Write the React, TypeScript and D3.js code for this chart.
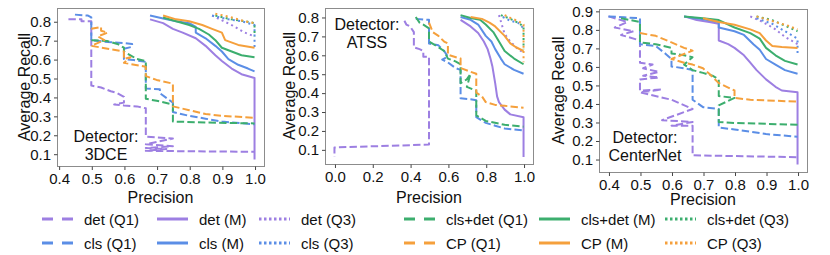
import { useEffect, useRef } from 'react';
import * as d3 from 'd3';

type Pt = [number, number]; // [precision, recall]

// ---- detector 3DCE ----
const dceDetQ1: Pt[] = [[0.43, 0.81], [0.47, 0.81], [0.47, 0.8], [0.5, 0.8], [0.5, 0.46], [0.53, 0.45], [0.56, 0.43], [0.58, 0.42], [0.6, 0.4], [0.6, 0.37], [0.57, 0.36], [0.6, 0.355], [0.64, 0.35], [0.667, 0.34], [0.667, 0.19], [0.75, 0.18], [0.667, 0.15], [0.75, 0.14], [0.667, 0.13], [0.73, 0.125], [0.667, 0.115], [1.0, 0.11]];
const dceDetM: Pt[] = [[0.68, 0.81], [0.72, 0.79], [0.75, 0.76], [0.78, 0.74], [0.82, 0.71], [0.85, 0.67], [0.88, 0.62], [0.9, 0.59], [0.93, 0.55], [0.96, 0.52], [1.0, 0.5], [1.0, 0.07]];
const dceDetQ3: Pt[] = [[0.87, 0.83], [0.93, 0.78], [0.97, 0.74], [1.0, 0.72]];
const dceClsQ1: Pt[] = [[0.45, 0.835], [0.49, 0.83], [0.5, 0.82], [0.5, 0.7], [0.55, 0.69], [0.6, 0.685], [0.625, 0.68], [0.625, 0.665], [0.6, 0.655], [0.6, 0.6], [0.63, 0.595], [0.667, 0.585], [0.667, 0.445], [0.71, 0.44], [0.71, 0.42], [0.75, 0.37], [0.75, 0.32], [0.8, 0.3], [0.85, 0.285], [0.9, 0.27], [1.0, 0.255]];
const dceClsM: Pt[] = [[0.68, 0.83], [0.72, 0.815], [0.76, 0.8], [0.8, 0.79], [0.82, 0.77], [0.82, 0.74], [0.85, 0.71], [0.88, 0.67], [0.9, 0.64], [0.92, 0.6], [0.95, 0.57], [0.98, 0.55], [1.0, 0.535]];
const dceClsQ3: Pt[] = [[0.87, 0.83], [0.92, 0.81], [0.96, 0.8], [1.0, 0.78], [1.0, 0.66]];
const dceCdQ1: Pt[] = [[0.5, 0.7], [0.55, 0.695], [0.58, 0.68], [0.6, 0.66], [0.6, 0.64], [0.62, 0.62], [0.64, 0.6], [0.667, 0.59], [0.667, 0.39], [0.7, 0.38], [0.75, 0.36], [0.75, 0.27], [0.85, 0.265], [1.0, 0.26]];
const dceCdM: Pt[] = [[0.72, 0.82], [0.76, 0.8], [0.8, 0.78], [0.83, 0.76], [0.86, 0.73], [0.88, 0.7], [0.9, 0.66], [0.93, 0.64], [0.96, 0.62], [1.0, 0.61]];
const dceCdQ3: Pt[] = [[0.88, 0.83], [0.93, 0.81], [0.97, 0.8], [1.0, 0.79], [1.0, 0.72]];
const dceCpQ1: Pt[] = [[0.5, 0.76], [0.53, 0.77], [0.53, 0.75], [0.55, 0.74], [0.52, 0.72], [0.54, 0.7], [0.5, 0.67], [0.55, 0.655], [0.6, 0.64], [0.6, 0.6], [0.62, 0.61], [0.6, 0.58], [0.667, 0.56], [0.667, 0.51], [0.7, 0.49], [0.75, 0.47], [0.75, 0.35], [0.8, 0.33], [0.85, 0.31], [0.9, 0.3], [1.0, 0.29]];
const dceCpM: Pt[] = [[0.72, 0.83], [0.76, 0.81], [0.8, 0.8], [0.84, 0.78], [0.87, 0.76], [0.9, 0.74], [0.91, 0.7], [0.95, 0.675], [1.0, 0.66]];
const dceCpQ3: Pt[] = [[0.88, 0.84], [0.93, 0.82], [0.97, 0.8], [1.0, 0.79]];

// ---- detector ATSS ----
const atssDetQ1: Pt[] = [[0.37, 0.78], [0.38, 0.76], [0.4, 0.75], [0.42, 0.72], [0.42, 0.64], [0.45, 0.63], [0.47, 0.62], [0.47, 0.59], [0.5, 0.59], [0.5, 0.125], [0.0, 0.11], [0.0, 0.06]];
const atssDetM: Pt[] = [[0.667, 0.785], [0.72, 0.75], [0.76, 0.715], [0.79, 0.67], [0.81, 0.63], [0.825, 0.58], [0.835, 0.54], [0.85, 0.45], [0.86, 0.38], [0.87, 0.35], [0.9, 0.31], [0.93, 0.285], [1.0, 0.27], [1.0, 0.06]];
const atssDetQ3: Pt[] = [[0.87, 0.81], [0.885, 0.76], [0.9, 0.71], [0.93, 0.67], [0.96, 0.64], [1.0, 0.61]];
const atssClsQ1: Pt[] = [[0.43, 0.79], [0.5, 0.785], [0.5, 0.66], [0.55, 0.65], [0.58, 0.62], [0.6, 0.59], [0.57, 0.575], [0.6, 0.56], [0.64, 0.53], [0.667, 0.52], [0.667, 0.37], [0.72, 0.365], [0.75, 0.36], [0.75, 0.27], [0.8, 0.24], [0.85, 0.225], [0.9, 0.21], [1.0, 0.2]];
const atssClsM: Pt[] = [[0.667, 0.8], [0.72, 0.785], [0.76, 0.76], [0.8, 0.7], [0.83, 0.67], [0.85, 0.63], [0.88, 0.58], [0.9, 0.55], [0.95, 0.52], [1.0, 0.5]];
const atssClsQ3: Pt[] = [[0.89, 0.8], [0.93, 0.78], [0.97, 0.77], [1.0, 0.74]];
const atssCdQ1: Pt[] = [[0.43, 0.8], [0.45, 0.77], [0.47, 0.76], [0.5, 0.74], [0.5, 0.67], [0.55, 0.64], [0.58, 0.62], [0.6, 0.58], [0.64, 0.565], [0.667, 0.55], [0.667, 0.45], [0.7, 0.47], [0.72, 0.5], [0.7, 0.43], [0.75, 0.41], [0.75, 0.28], [0.8, 0.25], [0.9, 0.23], [1.0, 0.22]];
const atssCdM: Pt[] = [[0.667, 0.81], [0.72, 0.795], [0.77, 0.785], [0.8, 0.76], [0.84, 0.72], [0.87, 0.67], [0.9, 0.62], [0.95, 0.58], [1.0, 0.55]];
const atssCdQ3: Pt[] = [[0.88, 0.81], [0.93, 0.79], [0.97, 0.77], [1.0, 0.75], [1.0, 0.63]];
const atssCpQ1: Pt[] = [[0.5, 0.77], [0.52, 0.72], [0.55, 0.7], [0.58, 0.67], [0.6, 0.66], [0.6, 0.6], [0.667, 0.58], [0.667, 0.53], [0.72, 0.51], [0.75, 0.5], [0.75, 0.4], [0.78, 0.38], [0.8, 0.35], [0.85, 0.335], [0.9, 0.33], [1.0, 0.32]];
const atssCpM: Pt[] = [[0.72, 0.8], [0.78, 0.79], [0.82, 0.77], [0.85, 0.75], [0.88, 0.72], [0.9, 0.7], [0.93, 0.66], [0.96, 0.64], [1.0, 0.62]];
const atssCpQ3: Pt[] = [[0.9, 0.81], [0.94, 0.79], [0.97, 0.78], [1.0, 0.76], [1.0, 0.56]];

// ---- detector CenterNet ----
const cnDetQ1: Pt[] = [[0.4, 0.87], [0.46, 0.84], [0.42, 0.81], [0.48, 0.79], [0.44, 0.77], [0.5, 0.74], [0.5, 0.62], [0.54, 0.61], [0.51, 0.59], [0.56, 0.57], [0.51, 0.55], [0.56, 0.54], [0.5, 0.53], [0.5, 0.47], [0.57, 0.475], [0.5, 0.46], [0.6, 0.42], [0.667, 0.37], [0.57, 0.31], [0.667, 0.3], [0.6, 0.28], [0.667, 0.28], [0.667, 0.12], [1.0, 0.11]];
const cnDetM: Pt[] = [[0.64, 0.87], [0.68, 0.85], [0.72, 0.84], [0.75, 0.83], [0.75, 0.74], [0.78, 0.72], [0.8, 0.7], [0.83, 0.66], [0.85, 0.62], [0.87, 0.58], [0.9, 0.53], [0.93, 0.49], [0.95, 0.47], [1.0, 0.46], [1.0, 0.07]];
const cnDetQ3: Pt[] = [[0.85, 0.87], [0.89, 0.84], [0.93, 0.8], [0.96, 0.76], [1.0, 0.72]];
const cnClsQ1: Pt[] = [[0.4, 0.87], [0.45, 0.865], [0.5, 0.86], [0.5, 0.72], [0.55, 0.71], [0.58, 0.67], [0.6, 0.64], [0.6, 0.6], [0.64, 0.59], [0.667, 0.58], [0.667, 0.42], [0.7, 0.38], [0.75, 0.37], [0.75, 0.27], [0.8, 0.26], [0.9, 0.235], [1.0, 0.22]];
const cnClsM: Pt[] = [[0.64, 0.87], [0.7, 0.855], [0.75, 0.84], [0.75, 0.81], [0.8, 0.79], [0.83, 0.77], [0.86, 0.72], [0.88, 0.69], [0.9, 0.64], [0.93, 0.61], [0.96, 0.58], [1.0, 0.56]];
const cnClsQ3: Pt[] = [[0.87, 0.86], [0.92, 0.83], [0.96, 0.79], [1.0, 0.75], [1.0, 0.66]];
const cnCdQ1: Pt[] = [[0.44, 0.86], [0.5, 0.84], [0.5, 0.73], [0.55, 0.72], [0.6, 0.7], [0.6, 0.67], [0.64, 0.66], [0.667, 0.65], [0.64, 0.61], [0.667, 0.58], [0.7, 0.565], [0.73, 0.55], [0.75, 0.53], [0.75, 0.44], [0.8, 0.43], [0.75, 0.39], [0.75, 0.3], [0.8, 0.295], [0.9, 0.29], [1.0, 0.285]];
const cnCdM: Pt[] = [[0.64, 0.87], [0.7, 0.86], [0.75, 0.85], [0.8, 0.81], [0.85, 0.78], [0.88, 0.75], [0.9, 0.7], [0.93, 0.66], [0.96, 0.63], [1.0, 0.61]];
const cnCdQ3: Pt[] = [[0.87, 0.87], [0.92, 0.85], [0.96, 0.82], [1.0, 0.79]];
const cnCpQ1: Pt[] = [[0.5, 0.78], [0.55, 0.765], [0.6, 0.73], [0.64, 0.7], [0.667, 0.685], [0.6, 0.64], [0.64, 0.62], [0.667, 0.61], [0.7, 0.59], [0.72, 0.56], [0.75, 0.51], [0.8, 0.47], [0.8, 0.43], [0.85, 0.42], [1.0, 0.41]];
const cnCpM: Pt[] = [[0.7, 0.86], [0.75, 0.84], [0.8, 0.825], [0.85, 0.8], [0.88, 0.78], [0.9, 0.74], [0.92, 0.71], [0.95, 0.705], [1.0, 0.7]];
const cnCpQ3: Pt[] = [[0.87, 0.87], [0.93, 0.84], [0.97, 0.82], [1.0, 0.8]];

const methods = ['det', 'cls', 'cls+det', 'CP'];
const quantiles = ['Q1', 'M', 'Q3'];
const methodColors = ['#9d7fe2', '#5b8ee6', '#3cae6e', '#f5a03c'];

const dceXTicks = [0.4, 0.5, 0.6, 0.7, 0.8, 0.9, 1.0];
const dceYTicks = [0.1, 0.2, 0.3, 0.4, 0.5, 0.6, 0.7, 0.8];
const atssXTicks = [0.0, 0.2, 0.4, 0.6, 0.8, 1.0];
const atssYTicks = [0.1, 0.2, 0.3, 0.4, 0.5, 0.6, 0.7, 0.8];
const cnXTicks = [0.4, 0.5, 0.6, 0.7, 0.8, 0.9, 1.0];
const cnYTicks = [0.1, 0.2, 0.3, 0.4, 0.5, 0.6, 0.7, 0.8, 0.9];

const FONT = 'Liberation Sans, Arial, Helvetica, sans-serif';
const dashFor = (q: string) => (q === 'Q1' ? '7.4,3.2' : q === 'Q3' ? '2,3.3' : null);

interface Panel {
  name: string[];
  curves: Pt[][][]; // [method][quantile]
  xDomain: [number, number];
  yDomain: [number, number];
  left: number; right: number; top: number; bottom: number;
  xTicks: number[]; yTicks: number[];
  yLabelX: number; xLabelY: number;
  textX: number; textY: number;
}

const panels: Panel[] = [
  {
    name: ['Detector:', '3DCE'],
    curves: [[dceDetQ1, dceDetM, dceDetQ3], [dceClsQ1, dceClsM, dceClsQ3], [dceCdQ1, dceCdM, dceCdQ3], [dceCpQ1, dceCpM, dceCpQ3]],
    xDomain: [0.395, 1.029], yDomain: [0.035, 0.87],
    left: 57, right: 264, top: 8, bottom: 166,
    xTicks: dceXTicks, yTicks: dceYTicks,
    yLabelX: 24, xLabelY: 203, textX: 106, textY: 142
  },
  {
    name: ['Detector:', 'ATSS'],
    curves: [[atssDetQ1, atssDetM, atssDetQ3], [atssClsQ1, atssClsM, atssClsQ3], [atssCdQ1, atssCdM, atssCdQ3], [atssCpQ1, atssCpM, atssCpQ3]],
    xDomain: [-0.05, 1.05], yDomain: [0.0225, 0.8475],
    left: 325, right: 533, top: 8, bottom: 164,
    xTicks: atssXTicks, yTicks: atssYTicks,
    yLabelX: 289, xLabelY: 203, textX: 367, textY: 30
  },
  {
    name: ['Detector:', 'CenterNet'],
    curves: [[cnDetQ1, cnDetM, cnDetQ3], [cnClsQ1, cnClsM, cnClsQ3], [cnCdQ1, cnCdM, cnCdQ3], [cnCpQ1, cnCpM, cnCpQ3]],
    xDomain: [0.37, 1.03], yDomain: [0.03, 0.91],
    left: 599, right: 807, top: 9, bottom: 172,
    xTicks: cnXTicks, yTicks: cnYTicks,
    yLabelX: 558, xLabelY: 205, textX: 645, textY: 143
  }
];

export default function App() {
  const ref = useRef<SVGSVGElement>(null);

  useEffect(() => {
    const svg = d3.select(ref.current);
    svg.selectAll('*').remove();

    panels.forEach((p, pi) => {
      const x = d3.scaleLinear().domain(p.xDomain).range([p.left, p.right]);
      const y = d3.scaleLinear().domain(p.yDomain).range([p.bottom, p.top]);
      const clipId = `clip-${pi}`;

      svg.append('clipPath').attr('id', clipId)
        .append('rect')
        .attr('x', p.left).attr('y', p.top)
        .attr('width', p.right - p.left).attr('height', p.bottom - p.top);

      const line = d3.line<Pt>().x(d => x(d[0])).y(d => y(d[1]));
      const g = svg.append('g').attr('clip-path', `url(#${clipId})`);

      p.curves.forEach((byQ, mi) => {
        byQ.forEach((pts, qi) => {
          const dash = dashFor(quantiles[qi]);
          g.append('path')
            .attr('d', line(pts) ?? '')
            .attr('fill', 'none')
            .attr('stroke', methodColors[mi])
            .attr('stroke-width', 2)
            .attr('stroke-linejoin', 'round')
            .attr('stroke-dasharray', dash);
        });
      });

      // frame
      svg.append('rect')
        .attr('x', p.left + 0.5).attr('y', p.top + 0.5)
        .attr('width', p.right - p.left).attr('height', p.bottom - p.top)
        .attr('fill', 'none').attr('stroke', '#8c8c8c').attr('stroke-width', 1);

      const xAxis = svg.append('g')
        .attr('transform', `translate(0.5, ${p.bottom + 0.5})`)
        .call(d3.axisBottom(x).tickValues(p.xTicks).tickFormat(d3.format('.1f')).tickSize(3.5).tickPadding(3));
      const yAxis = svg.append('g')
        .attr('transform', `translate(${p.left + 0.5}, 0.5)`)
        .call(d3.axisLeft(y).tickValues(p.yTicks).tickFormat(d3.format('.1f')).tickSize(3.5).tickPadding(3));
      [xAxis, yAxis].forEach(a => {
        a.select('.domain').remove();
        a.selectAll('line').attr('stroke', '#444');
        a.selectAll('text').attr('font-family', FONT).attr('font-size', 15).attr('fill', '#111');
      });

      svg.append('text')
        .attr('x', (p.left + p.right) / 2).attr('y', p.xLabelY)
        .attr('text-anchor', 'middle')
        .attr('font-family', FONT).attr('font-size', 16).attr('fill', '#111')
        .text('Precision');

      svg.append('text')
        .attr('transform', `translate(${p.yLabelX}, ${(p.top + p.bottom) / 2}) rotate(-90)`)
        .attr('text-anchor', 'middle').attr('dominant-baseline', 'central')
        .attr('font-family', FONT).attr('font-size', 16).attr('fill', '#111')
        .text('Average Recall');

      p.name.forEach((t, i) => {
        svg.append('text')
          .attr('x', p.textX).attr('y', p.textY + i * 18)
          .attr('text-anchor', 'middle')
          .attr('font-family', FONT).attr('font-size', 16).attr('fill', '#111')
          .text(t);
      });
    });

    // legend: two groups, each 2 rows x 3 columns
    const groupX = [42, 404];
    const colOffsets = [[0, 115, 217], [0, 135, 261]];
    const rowY = [219, 243];
    const lg = svg.append('g');
    methods.forEach((m, mi) => {
      const grp = mi === 0 || mi === 1 ? 0 : 1;
      const row = mi === 0 || mi === 2 ? 0 : 1;
      quantiles.forEach((q, qi) => {
        const x0 = groupX[grp] + colOffsets[grp][qi];
        const yy = rowY[row];
        lg.append('line')
          .attr('x1', x0).attr('x2', x0 + 31)
          .attr('y1', yy).attr('y2', yy)
          .attr('stroke', methodColors[mi])
          .attr('stroke-width', 3)
          .attr('stroke-dasharray', q === 'Q1' ? '11,9' : q === 'Q3' ? '2.5,2.5' : null);
        lg.append('text')
          .attr('x', x0 + 42).attr('y', yy)
          .attr('dominant-baseline', 'central')
          .attr('font-family', FONT).attr('font-size', 15).attr('fill', '#111')
          .text(`${m} (${q})`);
      });
    });
  }, []);

  return (
    <svg
      ref={ref}
      width={830}
      height={255}
      style={{ position: 'absolute', left: 0, top: 0, background: '#fff' }}
    />
  );
}
